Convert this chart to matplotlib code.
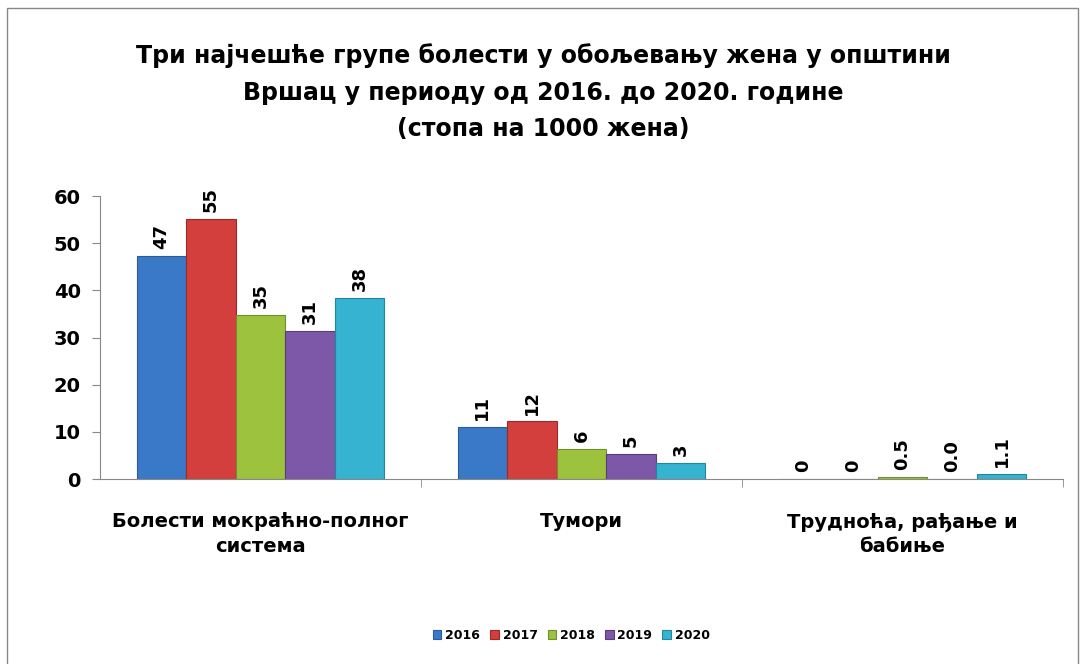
import matplotlib.pyplot as plt
import numpy as np
from matplotlib.patches import Rectangle

plt.rcParams['font.family'] = ['DejaVu Sans']
plt.rcParams['font.weight'] = 'bold'

categories = ['Болести мокраћно-полног\nсистема', 'Тумори', 'Трудноћа, рађање и\nбабиње']
years = ['2016', '2017', '2018', '2019', '2020']
values = [
    [47.3, 11.0, 0.0],
    [55.2, 12.2, 0.0],
    [34.8, 6.3, 0.5],
    [31.3, 5.4, 0.0],
    [38.4, 3.4, 1.1],
]
labels = [
    ['47', '11', '0'],
    ['55', '12', '0'],
    ['35', '6', '0.5'],
    ['31', '5', '0.0'],
    ['38', '3', '1.1'],
]
colors = ['#3a78c8', '#d23f3c', '#9cc23e', '#7d58a8', '#36b3d1']
edges = ['#2a5a98', '#9e2a27', '#6f8f2a', '#5a3c7d', '#23869e']

fig = plt.figure(figsize=(10.86, 6.64), dpi=100)
ax = fig.add_axes([0.0921, 0.2786, 0.8867, 0.4262])

x = np.arange(len(categories))
w = 0.1545
for i, yr in enumerate(years):
    pos = x - 2 * w + i * w
    ax.bar(pos, values[i], w, color=colors[i], edgecolor=edges[i], linewidth=0.8, label=yr)
    for p, v, t in zip(pos, values[i], labels[i]):
        ax.annotate(t, (p, v), xytext=(0, 5), textcoords='offset points',
                    rotation=90, ha='center', va='bottom', fontsize=13, fontweight='bold')

ax.set_xlim(-0.5, 2.5)
ax.set_ylim(0, 60)
ax.set_yticks(range(0, 61, 10))
ax.tick_params(axis='y', labelsize=14, length=6, color='#888888', pad=8)
ax.set_xticks(x)
ax.set_xticklabels(categories, fontsize=14, fontweight='bold', linespacing=1.35)
ax.set_xticks([0.5, 1.5, 2.5], minor=True)
ax.tick_params(axis='x', which='major', length=0, pad=24)
ax.tick_params(axis='x', which='minor', length=6, color='#888888')
for s in ['top', 'right']:
    ax.spines[s].set_visible(False)
for s in ['left', 'bottom']:
    ax.spines[s].set_color('#888888')

fig.text(0.5, 0.861, 'Три најчешће групе болести у обољевању жена у општини\nВршац у периоду од 2016. до 2020. године\n(стопа на 1000 жена)',
         ha='center', va='center', fontsize=17, fontweight='bold', linespacing=1.65)

fig.legend(loc='center', bbox_to_anchor=(0.526, 0.043), ncol=5, frameon=False,
           fontsize=9, handlelength=0.7, handleheight=0.7, handletextpad=0.3, columnspacing=0.8)

fig.patches.append(Rectangle((0.0065, -0.01), 0.986, 0.998, transform=fig.transFigure,
                             fill=False, edgecolor='#888888', linewidth=1))

fig.savefig('out.png', dpi=100)
